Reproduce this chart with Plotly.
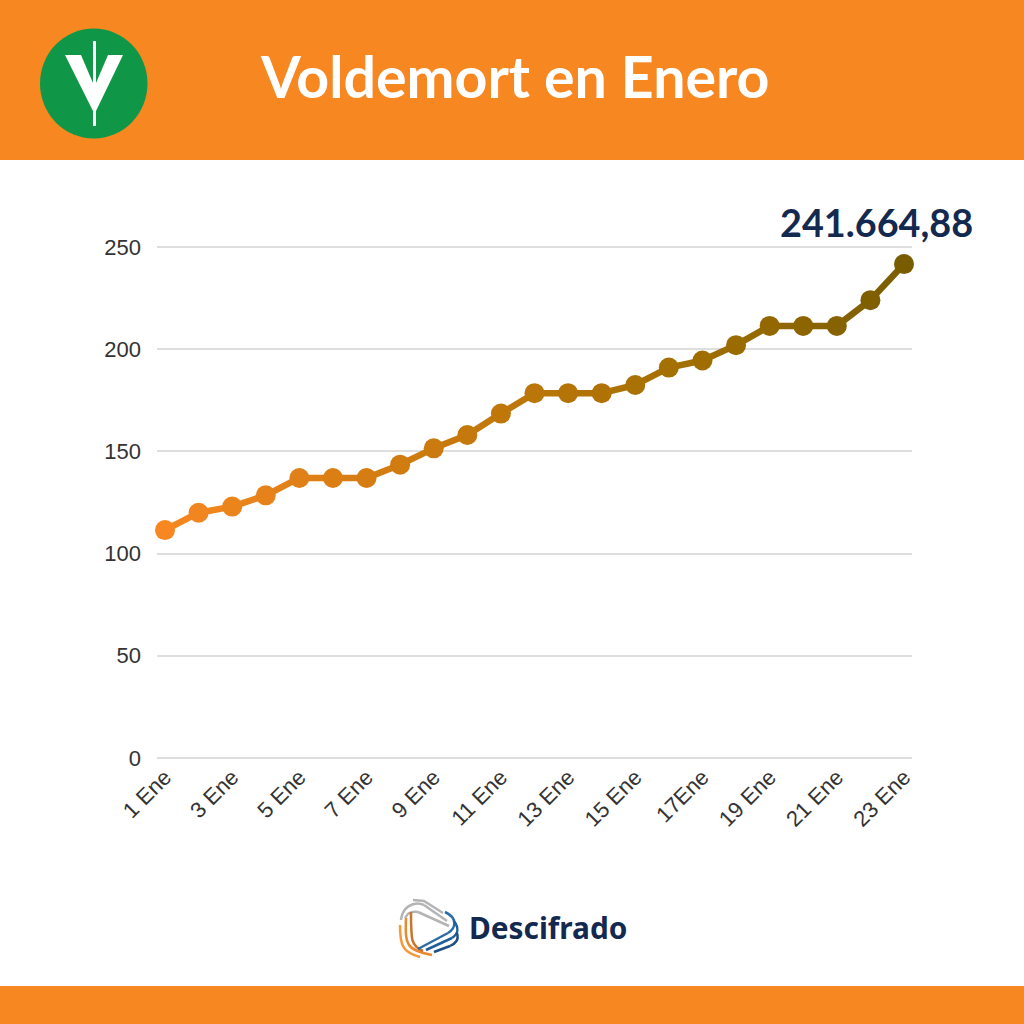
import numpy as np
import plotly.graph_objects as go

days = ["1 Ene", "2 Ene", "3 Ene", "4 Ene", "5 Ene", "6 Ene", "7 Ene", "8 Ene", "9 Ene", "10 Ene",
        "11 Ene", "12 Ene", "13 Ene", "14 Ene", "15 Ene", "16 Ene", "17Ene", "18 Ene", "19 Ene",
        "20 Ene", "21 Ene", "22 Ene", "23 Ene"]
values = [111.5, 120, 123, 128.5, 137, 137, 137, 143.5, 151.5, 158, 168.5, 178.5, 178.5, 178.5,
          182.5, 191, 194.5, 202, 211.4, 211.4, 211.4, 224, 241.66]

ORANGE = "#F78721"
NAVY = "#14294F"
# colour of the line read at the start, 9 Ene, 17 Ene and the end
shade_stops = [0, 8 / 22, 16 / 22, 1]
shade_r = [247, 202, 160, 122]
shade_g = [135, 122, 110, 92]
shade_b = [33, 14, 0, 0]


def shade(t):
    r = np.interp(t, shade_stops, shade_r)
    g = np.interp(t, shade_stops, shade_g)
    b = np.interp(t, shade_stops, shade_b)
    return f"rgb({r:.0f},{g:.0f},{b:.0f})"


point_colors = [shade(i / (len(values) - 1)) for i in range(len(values))]

fig = go.Figure()

# one trace per segment, plotly lines have no gradient
for i in range(len(values) - 1):
    fig.add_trace(go.Scatter(
        x=days[i:i + 2], y=values[i:i + 2], mode="lines",
        line=dict(color=shade((i + 0.5) / (len(values) - 1)), width=6.5),
        cliponaxis=False, hoverinfo="skip", showlegend=False,
    ))
fig.add_trace(go.Scatter(
    x=days, y=values, mode="markers",
    marker=dict(color=point_colors, size=20),
    cliponaxis=False, showlegend=False,
))
fig.add_trace(go.Scatter(x=[0], y=[0], xaxis="x2", yaxis="y2", mode="markers", marker=dict(opacity=0),
                         hoverinfo="skip", showlegend=False))

# second pair of axes over the whole page, in pixels, for the banner and logos
pixel_axes = dict(xref="x2", yref="y2")


def stroke(points, color, width=2.5):
    path = "M " + " L ".join(f"{x},{y}" for x, y in points)
    fig.add_shape(type="path", path=path, line=dict(color=color, width=width), layer="above", **pixel_axes)


def curve(p0, c0, c1, p1, color, width=2.5):
    path = f"M {p0[0]},{p0[1]} C {c0[0]},{c0[1]} {c1[0]},{c1[1]} {p1[0]},{p1[1]}"
    fig.add_shape(type="path", path=path, line=dict(color=color, width=width), layer="above", **pixel_axes)


fig.add_shape(type="rect", x0=0, x1=1024, y0=0, y1=160, fillcolor=ORANGE, line_width=0, **pixel_axes)
fig.add_shape(type="rect", x0=0, x1=1024, y0=986, y1=1024, fillcolor=ORANGE, line_width=0, **pixel_axes)

# V logo
fig.add_shape(type="circle", x0=40, x1=147.5, y0=28.5, y1=138.5, fillcolor="#0F9647", line_width=0, **pixel_axes)
fig.add_shape(type="path", path="M 65,55 L 81,55 L 93,83 L 93,41 L 96,41 L 96,83 L 108,55 L 123,55 "
                                "L 96,111 L 96,126 L 93,126 L 93,111 Z",
              fillcolor="white", line_width=0, layer="above", **pixel_axes)

# Descifrado logo
GRAY = "#B4B4B4"
stroke([(413, 900), (424, 901), (443, 913)], GRAY)
curve((401, 920), (402, 908), (413, 900), (424, 905), GRAY)
stroke([(424, 905), (447, 921)], GRAY)
curve((405, 918), (408, 912), (412, 911), (418, 912), GRAY)
stroke([(418, 912), (449, 926)], GRAY)
curve((400, 925), (400, 945), (402, 952), (420, 957), "#F59A3C")
curve((406, 918), (405, 945), (406, 950), (432, 955), "#E98A2E")
curve((411, 912), (411, 940), (411, 946), (423, 951), "#C9752B")
curve((445, 912), (458, 918), (456, 928), (448, 933), "#2A6CA8")
stroke([(448, 933), (418, 949)], "#2A6CA8")
curve((454, 921), (459, 928), (459, 933), (452, 938), "#1F5E9A")
stroke([(452, 938), (426, 950)], "#1F5E9A")
curve((457, 933), (459, 940), (456, 943), (450, 946), "#1B4F86")
stroke([(450, 946), (434, 952)], "#1B4F86")

fig.add_annotation(text="<b>Voldemort en Enero</b>", x=515, y=75, showarrow=False,
                   font=dict(family="Lato", size=57.3, color="white"), **pixel_axes)
fig.add_annotation(text="<b>241.664,88</b>", x=876.5, y=222, showarrow=False,
                   font=dict(family="Lato", size=37.8, color=NAVY), **pixel_axes)
fig.add_annotation(text="<b>Descifrado</b>", x=547.5, y=927, showarrow=False,
                   font=dict(family="Noto Sans", size=29.8, color=NAVY), **pixel_axes)

fig.update_layout(
    width=1024, height=1024,
    margin=dict(l=0, r=0, t=0, b=0, autoexpand=False),
    paper_bgcolor="white", plot_bgcolor="rgba(0,0,0,0)",
    showlegend=False,
    font=dict(family="Liberation Sans", size=22, color="#333333"),
    xaxis=dict(
        domain=[157 / 1024, 912 / 1024], range=[-0.238, 22.238], type="category",
        categoryorder="array", categoryarray=days, automargin=False,
        dtick=2, tick0=0, tickangle=-45, showgrid=False, showline=False, zeroline=False,
        ticks="", anchor="y",
    ),
    yaxis=dict(
        # half a unit of slack so the gridlines at 0 and 250 still draw
        domain=[1 - 759 / 1024, 1 - 246 / 1024], range=[-0.5, 250.5], tickvals=[0, 50, 100, 150, 200, 250],
        gridcolor="#DEDEDE", gridwidth=1.5, zeroline=False, showline=False, ticks="", anchor="x",
        automargin=False, ticklabelstandoff=15,
    ),
    xaxis2=dict(domain=[0, 1], range=[0, 1024], visible=False, anchor="y2"),
    yaxis2=dict(domain=[0, 1], range=[1024, 0], visible=False, anchor="x2"),
)

fig.write_html("out.html", config=dict(displayModeBar=False), post_script="document.body.style.margin='0';")
